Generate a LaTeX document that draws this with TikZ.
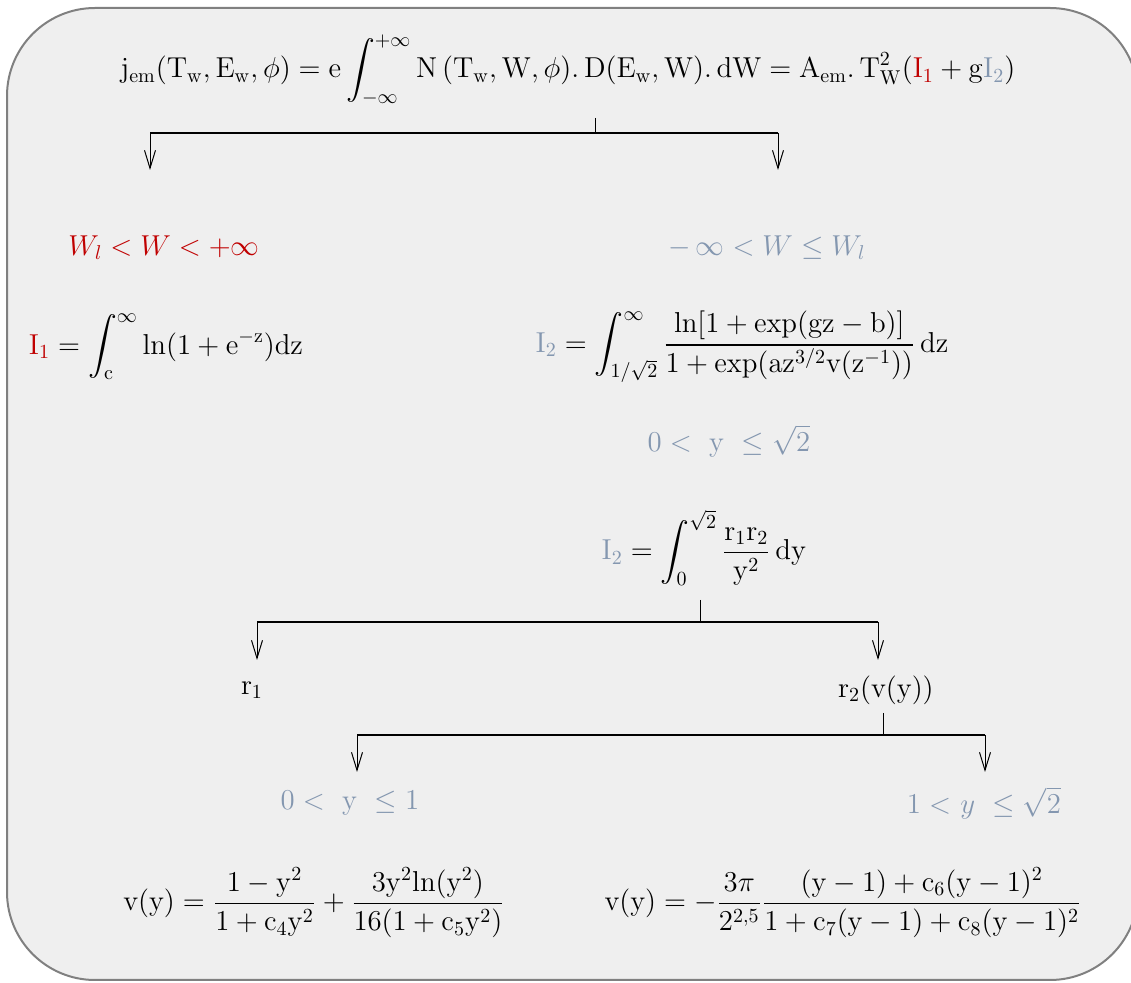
\documentclass[tikz,border=0pt]{standalone}
\usepackage{amsmath}
\usetikzlibrary{arrows.meta}
\definecolor{redI}{HTML}{C00000}
\definecolor{blueI}{HTML}{8497B0}
\definecolor{boxfill}{HTML}{EFEFEF}
\definecolor{boxline}{HTML}{808080}
\newcommand{\rI}[1]{\textcolor{redI}{\mathrm{I}_{#1}}}
\newcommand{\bI}[1]{\textcolor{blueI}{\mathrm{I}_{#1}}}
\tikzset{
  every node/.style={font=\fontsize{14.4}{17}\selectfont, inner sep=1pt},
  tip/.style={line width=0.5pt, -{Straight Barb[length=9pt,width=5.5pt]}},
  bar/.style={line width=0.8pt},
  tick/.style={line width=0.5pt}
}
\begin{document}
\begin{tikzpicture}[x=0.5pt, y=-0.5pt]
\useasboundingbox (0,0) rectangle (1131,983);
\draw[fill=boxfill, draw=boxline, line width=1pt, rounded corners=44pt] (7,8) rectangle (1138,980);
% top equation
\node (eq) at (568,70) {$\displaystyle \mathrm{j_{em}(T_w, E_w, \phi) = e\int_{-\infty}^{+\infty} N\,(T_w, W, \phi).\,D(E_w, W).\,dW = A_{em}.\,T_W^2(}\rI{1}+\mathrm{g}\bI{2}\mathrm{)}$};
\node[redI] (wl) at (164,248) {$W_l < W < +\infty$};
\node[blueI] (wr) at (767,248) {$-\,\infty < W \leq W_l$};
\node (i1) at (166,347) {$\displaystyle \rI{1} = \int_{\mathrm{c}}^{\infty}\mathrm{ln(1+e^{-z})dz}$};
\node (i2) at (742,347) {$\displaystyle \bI{2} = \int_{1/\sqrt{2}}^{\infty}\mathrm{\frac{ln[1+exp(gz-b)]}{1+exp(az^{3/2}v(z^{-1}))}\,dz}$};
\node[blueI] (ya) at (729,441) {$\mathrm{0<\ y\ \leq\sqrt{2}}$};
\node (i2y) at (704,548) {$\displaystyle \bI{2} = \int_{0}^{\sqrt{2}}\mathrm{\frac{r_1r_2}{y^2}\,dy}$};
\node (r1) at (252,690) {$\mathrm{r_1}$};
\node (r2) at (886,690) {$\mathrm{r_2(v(y))}$};
\node[blueI] (yb) at (350,803) {$\mathrm{0<\ y\ \leq 1}$};
\node[blueI] (yc) at (984,803) {$\mathrm{1<}\ y\ \leq\sqrt{2}$};
\node (vl) at (314,903) {$\displaystyle \mathrm{v(y) = \frac{1-y^2}{1+c_4y^2}+\frac{3y^2ln(y^2)}{16(1+c_5y^2)}}$};
\node (vr) at (843,903) {$\displaystyle \mathrm{v(y) = -\frac{3\pi}{2^{2{,}5}}\frac{(y-1)+c_6(y-1)^2}{1+c_7(y-1)+c_8(y-1)^2}}$};
% first fork
\coordinate (k1) at (595,118); \coordinate (b1) at (595,133);
\coordinate (bl1) at (150,133); \coordinate (br1) at (778,133);
\coordinate (a1l) at (150,170); \coordinate (a1r) at (778,170);
\draw[tick] (k1) -- (b1);
\draw[bar] (bl1) -- (br1);
\draw[tip] (bl1) -- (a1l);
\draw[tip] (br1) -- (a1r);
% second fork
\coordinate (k2) at (700,600); \coordinate (b2) at (700,622);
\coordinate (bl2) at (257,622); \coordinate (br2) at (878,622);
\coordinate (a2l) at (257,660); \coordinate (a2r) at (878,660);
\draw[tick] (k2) -- (b2);
\draw[bar] (bl2) -- (br2);
\draw[tip] (bl2) -- (a2l);
\draw[tip] (br2) -- (a2r);
% third fork
\coordinate (k3) at (883,713); \coordinate (b3) at (883,735);
\coordinate (bl3) at (357,735); \coordinate (br3) at (985,735);
\coordinate (a3l) at (357,772); \coordinate (a3r) at (985,772);
\draw[tick] (k3) -- (b3);
\draw[bar] (bl3) -- (br3);
\draw[tip] (bl3) -- (a3l);
\draw[tip] (br3) -- (a3r);
\end{tikzpicture}
\end{document}
